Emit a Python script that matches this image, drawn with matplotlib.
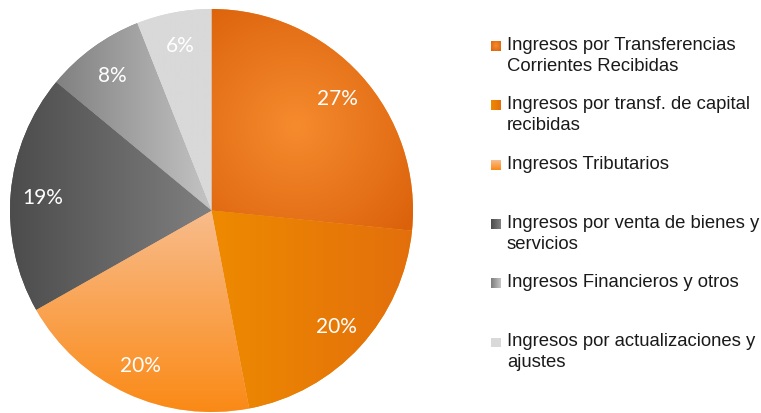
import numpy as np
import matplotlib
matplotlib.use("Agg")
import matplotlib.pyplot as plt
from matplotlib.colors import to_rgb

labels = ["Ingresos por Transferencias\nCorrientes Recibidas",
          "Ingresos por transf. de capital\nrecibidas",
          "Ingresos Tributarios",
          "Ingresos por venta de bienes y\nservicios",
          "Ingresos Financieros y otros",
          "Ingresos por actualizaciones y\najustes"]
values = [26.6, 20.4, 19.8, 19.2, 8.0, 6.0]

# gradient (start, end, kind) per slice
grads = [("#F68B2E", "#DB620B", "radial"),
         ("#EE8A00", "#E36F0C", "h"),
         ("#F8BC8C", "#FB8A16", "v"),
         ("#4C4C4C", "#808080", "h"),
         ("#7E7E7E", "#C4C4C4", "h"),
         ("#D9D9D9", "#D9D9D9", "h")]
ranges = [None, (0.0, 1.0), (0.0, -1.0), (-1.0, 0.0), (-0.8, 0.0), (-0.3, 0.0)]

W, H = 761, 413
fig = plt.figure(figsize=(W / 100, H / 100), dpi=100)

cx, cy, R = 211.5, 210.5, 201.5
ax = fig.add_axes([(cx - R) / W, (H - cy - R) / H, 2 * R / W, 2 * R / H])
wedges, texts, autotexts = ax.pie(values, startangle=90, counterclock=False,
                                  autopct="%.0f%%", pctdistance=0.84,
                                  wedgeprops=dict(linewidth=0),
                                  textprops=dict(color="white", fontsize=15, family="Lato"))
ax.set_xlim(-1, 1)
ax.set_ylim(-1, 1)
ax.set_aspect("equal")

N = 400
xs = np.linspace(-1, 1, N)
X, Y = np.meshgrid(xs, xs)


def blend(c0, c1, t):
    t = np.clip(t, 0, 1)[..., None]
    return np.array(to_rgb(c0)) * (1 - t) + np.array(to_rgb(c1)) * t


for i, (w, (c0, c1, kind)) in enumerate(zip(wedges, grads)):
    if kind == "radial":
        t = np.hypot(X - 0.42, Y - 0.42) / 0.75
    elif kind == "h":
        a, b = ranges[i]
        t = (X - a) / (b - a)
    else:
        a, b = ranges[i]
        t = (Y - a) / (b - a)
    img = blend(c0, c1, t)
    im = ax.imshow(img, extent=(-1, 1, -1, 1), origin="lower",
                   interpolation="bilinear", zorder=w.get_zorder() + 0.1)
    im.set_clip_path(w)
    w.set_facecolor(c0)

for t in autotexts:
    t.set_zorder(5)
    x, y = t.get_position()
    t.set_position((x, y - 0.01))

# legend
y0 = 46
step = 59.3
for i, lab in enumerate(labels):
    yc = y0 + i * step
    c0, c1, kind = grads[i]
    sq = fig.add_axes([491 / W, (H - yc - 5) / H, 10 / W, 10 / H])
    g = np.linspace(0, 1, 20)
    if kind == "v":
        sq.imshow(blend(c0, c1, g[:, None] * np.ones((1, 20))), aspect="auto")
    elif kind == "radial":
        gx, gy = np.meshgrid(g, g)
        sq.imshow(blend(c0, c1, np.hypot(gx - 0.5, gy - 0.5) / 0.7), aspect="auto")
    else:
        sq.imshow(blend(c0, c1, np.ones((20, 1)) * g[None, :]), aspect="auto")
    sq.axis("off")
    fig.text(507 / W, (H - yc + 9) / H, lab, fontsize=13.3, family="Liberation Sans",
             color="#1a1a1a", va="top", ha="left", linespacing=1.3)

fig.savefig("out.png", dpi=100)
